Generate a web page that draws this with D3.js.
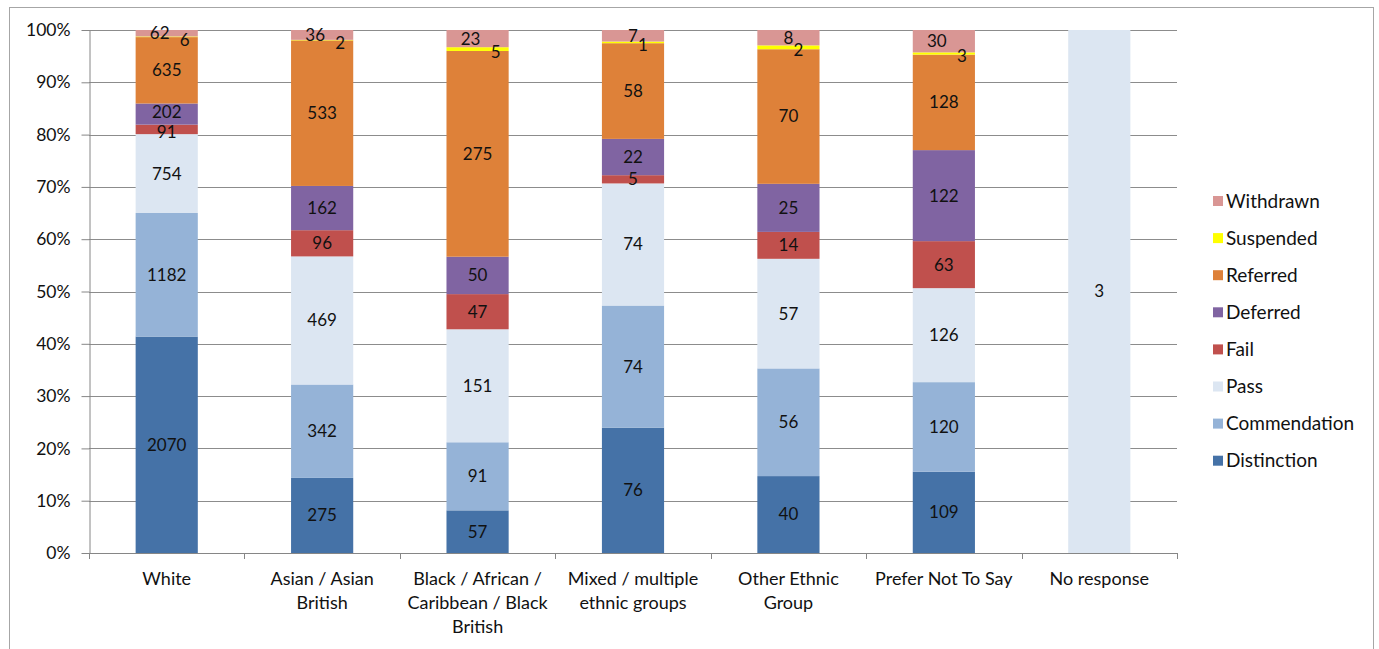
<!DOCTYPE html>
<html>
<head>
<meta charset="utf-8">
<script src="https://cdn.jsdelivr.net/npm/d3@7"></script>
<style>
  html, body { margin: 0; padding: 0; background: #ffffff; }
  svg { display: block; font-family: Lato, "Open Sans", sans-serif; }
</style>
</head>
<body>
<svg id="chart" width="1379" height="649"></svg>
<script>
// Outcomes by ethnic group (counts; bars show each group's share)
const categories = [
  "White",
  "Asian / Asian British",
  "Black / African / Caribbean / Black British",
  "Mixed / multiple ethnic groups",
  "Other Ethnic Group",
  "Prefer Not To Say",
  "No response"
];
const seriesNames = ["Distinction", "Commendation", "Pass", "Fail", "Deferred", "Referred", "Suspended", "Withdrawn"];

const distinction  = [2070, 275,  57, 76, 40, 109, 0];
const commendation = [1182, 342,  91, 74, 56, 120, 0];
const pass         = [ 754, 469, 151, 74, 57, 126, 3];
const fail         = [  91,  96,  47,  5, 14,  63, 0];
const deferred     = [ 202, 162,  50, 22, 25, 122, 0];
const referred     = [ 635, 533, 275, 58, 70, 128, 0];
const suspended    = [   6,   2,   5,  1,  2,   3, 0];
const withdrawn    = [  62,  36,  23,  7,  8,  30, 0];

const yTicks = [0, 0.1, 0.2, 0.3, 0.4, 0.5, 0.6, 0.7, 0.8, 0.9, 1.0];

const seriesColors = {
  Distinction:  "#4572a7",
  Commendation: "#95b3d7",
  Pass:         "#dce6f2",
  Fail:         "#c0504d",
  Deferred:     "#8064a2",
  Referred:     "#de8139",
  Suspended:    "#ffff00",
  Withdrawn:    "#d99694"
};

const FONT = "Lato, sans-serif";
const TEXT_COLOR = "#111111";

const seriesValues = [distinction, commendation, pass, fail, deferred, referred, suspended, withdrawn];
const rows = categories.map((c, i) => {
  const r = { category: c };
  seriesNames.forEach((s, k) => { r[s] = seriesValues[k][i]; });
  return r;
});

const svg = d3.select("#chart");
const margin = { left: 89, right: 1177, top: 30, bottom: 553 };

// chart frame
svg.append("rect")
  .attr("x", 9.5).attr("y", 7.5)
  .attr("width", 1364).attr("height", 660)
  .attr("fill", "#ffffff")
  .attr("stroke", "#a6a6a6").attr("stroke-width", 1);

const x = d3.scaleBand()
  .domain(categories)
  .range([margin.left, margin.right])
  .paddingInner(0.6)
  .paddingOuter(0.3);

const y = d3.scaleLinear()
  .domain([0, 1])
  .range([margin.bottom, margin.top]);

// gridlines
svg.append("g")
  .selectAll("line")
  .data(yTicks.filter(t => t > 0))
  .join("line")
  .attr("x1", margin.left).attr("x2", margin.right)
  .attr("y1", d => Math.round(y(d)) + 0.5).attr("y2", d => Math.round(y(d)) + 0.5)
  .attr("stroke", "#8c8c8c").attr("stroke-width", 1);

const stack = d3.stack().keys(seriesNames).offset(d3.stackOffsetExpand);
const layers = stack(rows);

// bars
const layerG = svg.append("g")
  .selectAll("g")
  .data(layers)
  .join("g")
  .attr("fill", d => seriesColors[d.key]);

layerG.selectAll("rect")
  .data(d => d.map(p => ({ key: d.key, p })))
  .join("rect")
  .attr("x", d => x(d.p.data.category))
  .attr("width", x.bandwidth())
  .attr("y", d => y(d.p[1]))
  .attr("height", d => Math.max(0, y(d.p[0]) - y(d.p[1])));

// y axis
const yAxis = d3.axisLeft(y)
  .tickValues(yTicks)
  .tickFormat(d3.format(".0%"))
  .tickSize(8)
  .tickSizeOuter(0)
  .tickPadding(11);

const yg = svg.append("g")
  .attr("transform", `translate(${margin.left + 0.5},0)`)
  .call(yAxis);
yg.selectAll("path, line").attr("stroke", "#868686");
yg.selectAll("text")
  .attr("font-size", 17.5)
  .attr("fill", TEXT_COLOR)
  .attr("font-family", FONT);

// x axis line with boundary ticks
const xg = svg.append("g");
xg.append("line")
  .attr("x1", margin.left).attr("x2", margin.right)
  .attr("y1", margin.bottom + 0.5).attr("y2", margin.bottom + 0.5)
  .attr("stroke", "#868686");
const tickXs = d3.range(categories.length + 1)
  .map(i => margin.left + (margin.right - margin.left) * i / categories.length);
xg.selectAll("line.tick")
  .data(tickXs)
  .join("line")
  .attr("class", "tick")
  .attr("x1", d => Math.round(d) + 0.5).attr("x2", d => Math.round(d) + 0.5)
  .attr("y1", margin.bottom).attr("y2", margin.bottom + 6)
  .attr("stroke", "#868686");

// category labels, wrapped to fit each band
function wrapLines(text, maxWidth, size) {
  const probe = svg.append("text").attr("font-size", size).attr("font-family", FONT);
  const words = text.split(" ");
  const lines = [];
  let cur = "";
  words.forEach(w => {
    const test = cur ? cur + " " + w : w;
    probe.text(test);
    if (probe.node().getComputedTextLength() > maxWidth && cur) {
      lines.push(cur);
      cur = w;
    } else {
      cur = test;
    }
  });
  if (cur) lines.push(cur);
  probe.remove();
  return lines;
}

const CAT_SIZE = 18;
const catG = svg.append("g");
categories.forEach(c => {
  const lines = wrapLines(c, 150, CAT_SIZE);
  const t = catG.append("text")
    .attr("x", x(c) + x.bandwidth() / 2)
    .attr("y", 585)
    .attr("text-anchor", "middle")
    .attr("font-size", CAT_SIZE)
    .attr("font-family", FONT)
    .attr("fill", TEXT_COLOR);
  lines.forEach((ln, i) => {
    t.append("tspan")
      .attr("x", x(c) + x.bandwidth() / 2)
      .attr("dy", i === 0 ? 0 : 24)
      .text(ln);
  });
});

// value labels
const LABEL_SIZE = 17;
const labelG = svg.append("g")
  .attr("font-size", LABEL_SIZE)
  .attr("font-family", FONT)
  .attr("fill", TEXT_COLOR)
  .attr("text-anchor", "middle");

categories.forEach((c, ci) => {
  const cx = x(c) + x.bandwidth() / 2;
  const stacked = [];
  layers.forEach(layer => {
    const p = layer[ci];
    const v = p.data[layer.key];
    if (!v) return;
    let cy = (y(p[0]) + y(p[1])) / 2;
    let dx = 0;
    if (layer.key === "Withdrawn") {
      dx = String(v).length > 1 ? -7 : 0;
    } else if (layer.key === "Suspended") {
      dx = String(p.data.Withdrawn).length > 1 ? 18 : 10;
      cy += 3;
    } else {
      stacked.push({ v, cy });
      return;
    }
    labelG.append("text").attr("x", cx + dx).attr("y", cy).attr("dy", "0.35em").text(v);
  });

  // keep neighbouring labels in thin segments from running into each other
  const minGap = 20;
  for (let k = 1; k < stacked.length; k++) {
    const gap = stacked[k - 1].cy - stacked[k].cy;
    if (gap < minGap) {
      const push = (minGap - gap) / 2;
      stacked[k - 1].cy += push;
      stacked[k].cy -= push;
    }
  }
  stacked.forEach(s => {
    labelG.append("text").attr("x", cx).attr("y", s.cy).attr("dy", "0.35em").text(s.v);
  });
});

// legend (top entry is the last series)
const legendItems = seriesNames.slice().reverse();
const legG = svg.append("g");
legendItems.forEach((s, i) => {
  const cy = 201 + i * 37.1;
  legG.append("rect")
    .attr("x", 1213).attr("y", cy - 5)
    .attr("width", 10).attr("height", 10)
    .attr("fill", seriesColors[s]);
  legG.append("text")
    .attr("x", 1226).attr("y", cy)
    .attr("dy", "0.35em")
    .attr("font-size", 19)
    .attr("font-family", FONT)
    .attr("fill", TEXT_COLOR)
    .text(s);
});
</script>
</body>
</html>
